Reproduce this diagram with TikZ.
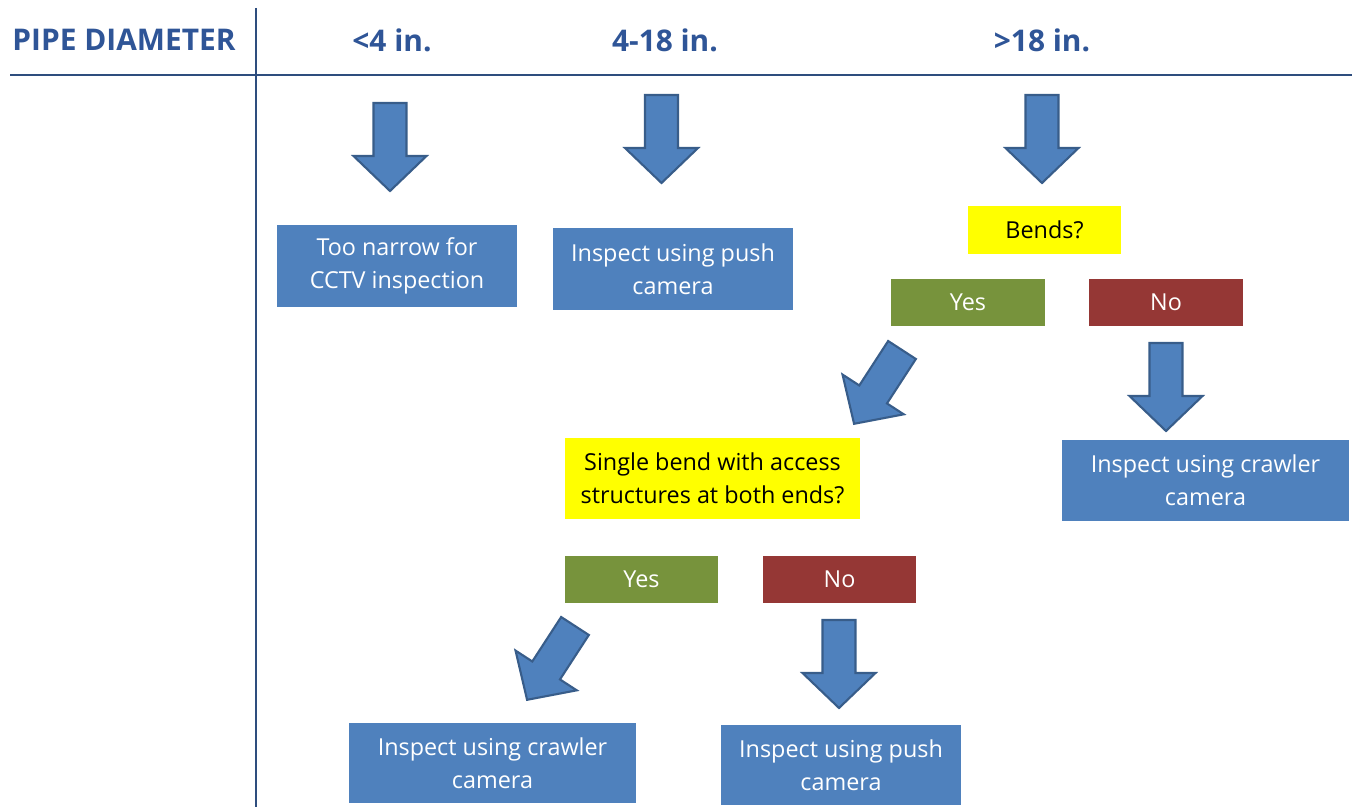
\documentclass[tikz,border=0pt]{standalone}
\usepackage{fontspec}
\setmainfont{Open Sans}
\definecolor{hdr}{HTML}{2F5597}
\definecolor{rule}{HTML}{2E4D7E}
\definecolor{boxblue}{HTML}{4F81BD}
\definecolor{arrowedge}{HTML}{385D8A}
\definecolor{qyellow}{HTML}{FFFF00}
\definecolor{ygreen}{HTML}{77933C}
\definecolor{nred}{HTML}{953735}
\tikzset{
  hdrtext/.style={font=\fontsize{17}{20}\selectfont\bfseries, text=hdr},
  basebox/.style={inner sep=0pt, align=center, font=\fontsize{13.3}{18.8}\selectfont},
  bluebox/.style={basebox, fill=boxblue, text=white},
  yellowbox/.style={basebox, fill=qyellow, text=black},
  yesbox/.style={basebox, fill=ygreen, text=white},
  nobox/.style={basebox, fill=nred, text=white},
  blockarrowstyle/.style={fill=boxblue, draw=arrowedge, line width=1.2pt, line join=miter},
  blockarrow/.pic={
    \draw[blockarrowstyle] (-16.5,0) -- (-16.5,53) -- (-36.5,53) -- (0,88) -- (36.5,53) -- (16.5,53) -- (16.5,0) -- cycle;
  }
}
\begin{document}
\begin{tikzpicture}[x=0.02cm, y=-0.02cm]
\useasboundingbox (0,0) rectangle (1352,807);
% header
\coordinate (vtop) at (256,8);
\coordinate (vbot) at (256,807);
\coordinate (hl) at (10,75);
\coordinate (hr) at (1352,75);
\draw[rule, line width=1.6pt] (vtop) -- (vbot);
\draw[rule, line width=1.6pt] (hl) -- (hr);
\node[hdrtext] (pd) at (124,40) {PIPE DIAMETER};
\node[hdrtext] (c1) at (392,40) {<4 in.};
\node[hdrtext] (c2) at (665,40) {4-18 in.};
\node[hdrtext] (c3) at (1042,40) {>18 in.};
% boxes
\node[bluebox, minimum width=240*0.02cm, minimum height=82*0.02cm] (narrow) at (397,266) {Too narrow for\\CCTV inspection};
\node[bluebox, minimum width=240*0.02cm, minimum height=82*0.02cm] (push1) at (673,269) {Inspect using push\\camera};
\node[yellowbox, minimum width=153*0.02cm, minimum height=48*0.02cm] (bends) at (1044.5,230) {Bends?};
\node[yesbox, minimum width=154*0.02cm, minimum height=47*0.02cm] (yes1) at (968,302.5) {Yes};
\node[nobox, minimum width=154*0.02cm, minimum height=47*0.02cm] (no1) at (1166,302.5) {No};
\node[bluebox, minimum width=287*0.02cm, minimum height=81*0.02cm] (crawl1) at (1205.5,480.5) {Inspect using crawler\\camera};
\node[yellowbox, minimum width=295*0.02cm, minimum height=81*0.02cm] (single) at (712.5,478.5) {Single bend with access\\structures at both ends?};
\node[yesbox, minimum width=153*0.02cm, minimum height=47*0.02cm] (yes2) at (641.5,579.5) {Yes};
\node[nobox, minimum width=153*0.02cm, minimum height=47*0.02cm] (no2) at (839.5,579.5) {No};
\node[bluebox, minimum width=287*0.02cm, minimum height=80*0.02cm] (crawl2) at (492.5,763) {Inspect using crawler\\camera};
\node[bluebox, minimum width=240*0.02cm, minimum height=80*0.02cm] (push2) at (841,765) {Inspect using push\\camera};
% block arrows
\pic at (390,103) {blockarrow};
\pic at (661.5,95) {blockarrow};
\pic at (1042,95) {blockarrow};
\pic at (1166,343) {blockarrow};
\pic at (839,620) {blockarrow};
\pic[rotate=-33] at (902,350) {blockarrow};
\pic[rotate=-33] at (575,626) {blockarrow};
\end{tikzpicture}
\end{document}
